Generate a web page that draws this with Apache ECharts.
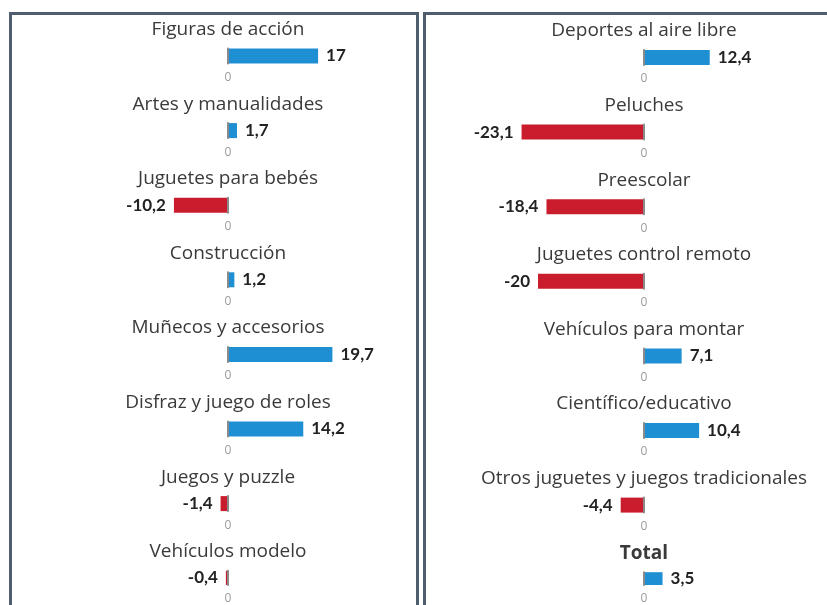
<!DOCTYPE html>
<html>
<head>
<meta charset="utf-8">
<script src="https://cdn.jsdelivr.net/npm/echarts@6/dist/echarts.min.js"></script>
<style>
  html, body { margin: 0; padding: 0; background: #fff; }
  #main { width: 827px; height: 605px; }
</style>
</head>
<body>
<div id="main"></div>
<script>
// panel izquierdo
const leftCategories = [
  'Figuras de acción', 'Artes y manualidades', 'Juguetes para bebés', 'Construcción',
  'Muñecos y accesorios', 'Disfraz y juego de roles', 'Juegos y puzzle', 'Vehículos modelo'
];
const leftValues = [17, 1.7, -10.2, 1.2, 19.7, 14.2, -1.4, -0.4];

// panel derecho
const rightCategories = [
  'Deportes al aire libre', 'Peluches', 'Preescolar', 'Juguetes control remoto',
  'Vehículos para montar', 'Científico/educativo', 'Otros juguetes y juegos tradicionales', 'Total'
];
const rightValues = [12.4, -23.1, -18.4, -20, 7.1, 10.4, -4.4, 3.5];

const axisMin = -25;
const axisMax = 30;
const axisInterval = 5;

const BLUE = '#1f8fd3';
const RED = '#c91d2e';
const PX_PER_UNIT = 5.3;
const ROW_STEP = 74.6;
const BAR_H = 15;

const chart = echarts.init(document.getElementById('main'));

const grids = [], xAxes = [], yAxes = [], series = [], titles = [];

function addPanel(categories, values, zeroX, firstCenter) {
  const gridLeft = zeroX + axisMin * PX_PER_UNIT;
  const gridWidth = (axisMax - axisMin) * PX_PER_UNIT;
  categories.forEach((name, i) => {
    const idx = grids.length;
    const cy = firstCenter + ROW_STEP * i;
    const isTotal = name === 'Total';
    grids.push({ left: gridLeft, width: gridWidth, top: cy - BAR_H / 2, height: BAR_H });
    titles.push({
      text: name,
      left: zeroX,
      top: cy - 36,
      textAlign: 'center',
      padding: 0,
      textStyle: {
        fontFamily: 'Open Sans',
        fontSize: 19,
        fontWeight: isTotal ? 'bold' : 'normal',
        color: '#3a3a3a'
      }
    });
    xAxes.push({
      type: 'value',
      gridIndex: idx,
      min: axisMin,
      max: axisMax,
      interval: axisInterval,
      axisLine: { show: false },
      axisTick: { show: false },
      splitLine: { show: false },
      axisLabel: {
        margin: 8,
        color: '#9a9a9a',
        fontFamily: 'Open Sans',
        fontSize: 12,
        formatter: v => (v === 0 ? '0' : '')
      }
    });
    yAxes.push({
      type: 'category',
      gridIndex: idx,
      data: [name],
      z: 5,
      axisLine: { show: true, onZero: true, lineStyle: { color: '#8a8a8a', width: 2 } },
      axisTick: { show: false },
      axisLabel: { show: false }
    });
    const v = values[i];
    series.push({
      type: 'bar',
      xAxisIndex: idx,
      yAxisIndex: idx,
      barWidth: BAR_H,
      silent: true,
      data: [v],
      itemStyle: { color: v >= 0 ? BLUE : RED },
      label: {
        show: true,
        position: v >= 0 ? 'right' : 'left',
        distance: 8,
        fontFamily: 'Lato',
        fontSize: 17,
        fontWeight: 'bold',
        color: '#222',
        formatter: p => String(p.value).replace('.', ',')
      }
    });
  });
}

addPanel(leftCategories, leftValues, 228, 56);
addPanel(rightCategories, rightValues, 644, 57.5);

chart.setOption({
  animation: false,
  title: titles,
  grid: grids,
  xAxis: xAxes,
  yAxis: yAxes,
  series: series,
  graphic: [
    {
      type: 'rect',
      shape: { x: 10.5, y: 13.5, width: 407, height: 640 },
      style: { fill: 'none', stroke: '#4f5d6e', lineWidth: 3 }
    },
    {
      type: 'rect',
      shape: { x: 424.5, y: 13.5, width: 440, height: 640 },
      style: { fill: 'none', stroke: '#4f5d6e', lineWidth: 3 }
    }
  ]
});
</script>
</body>
</html>
